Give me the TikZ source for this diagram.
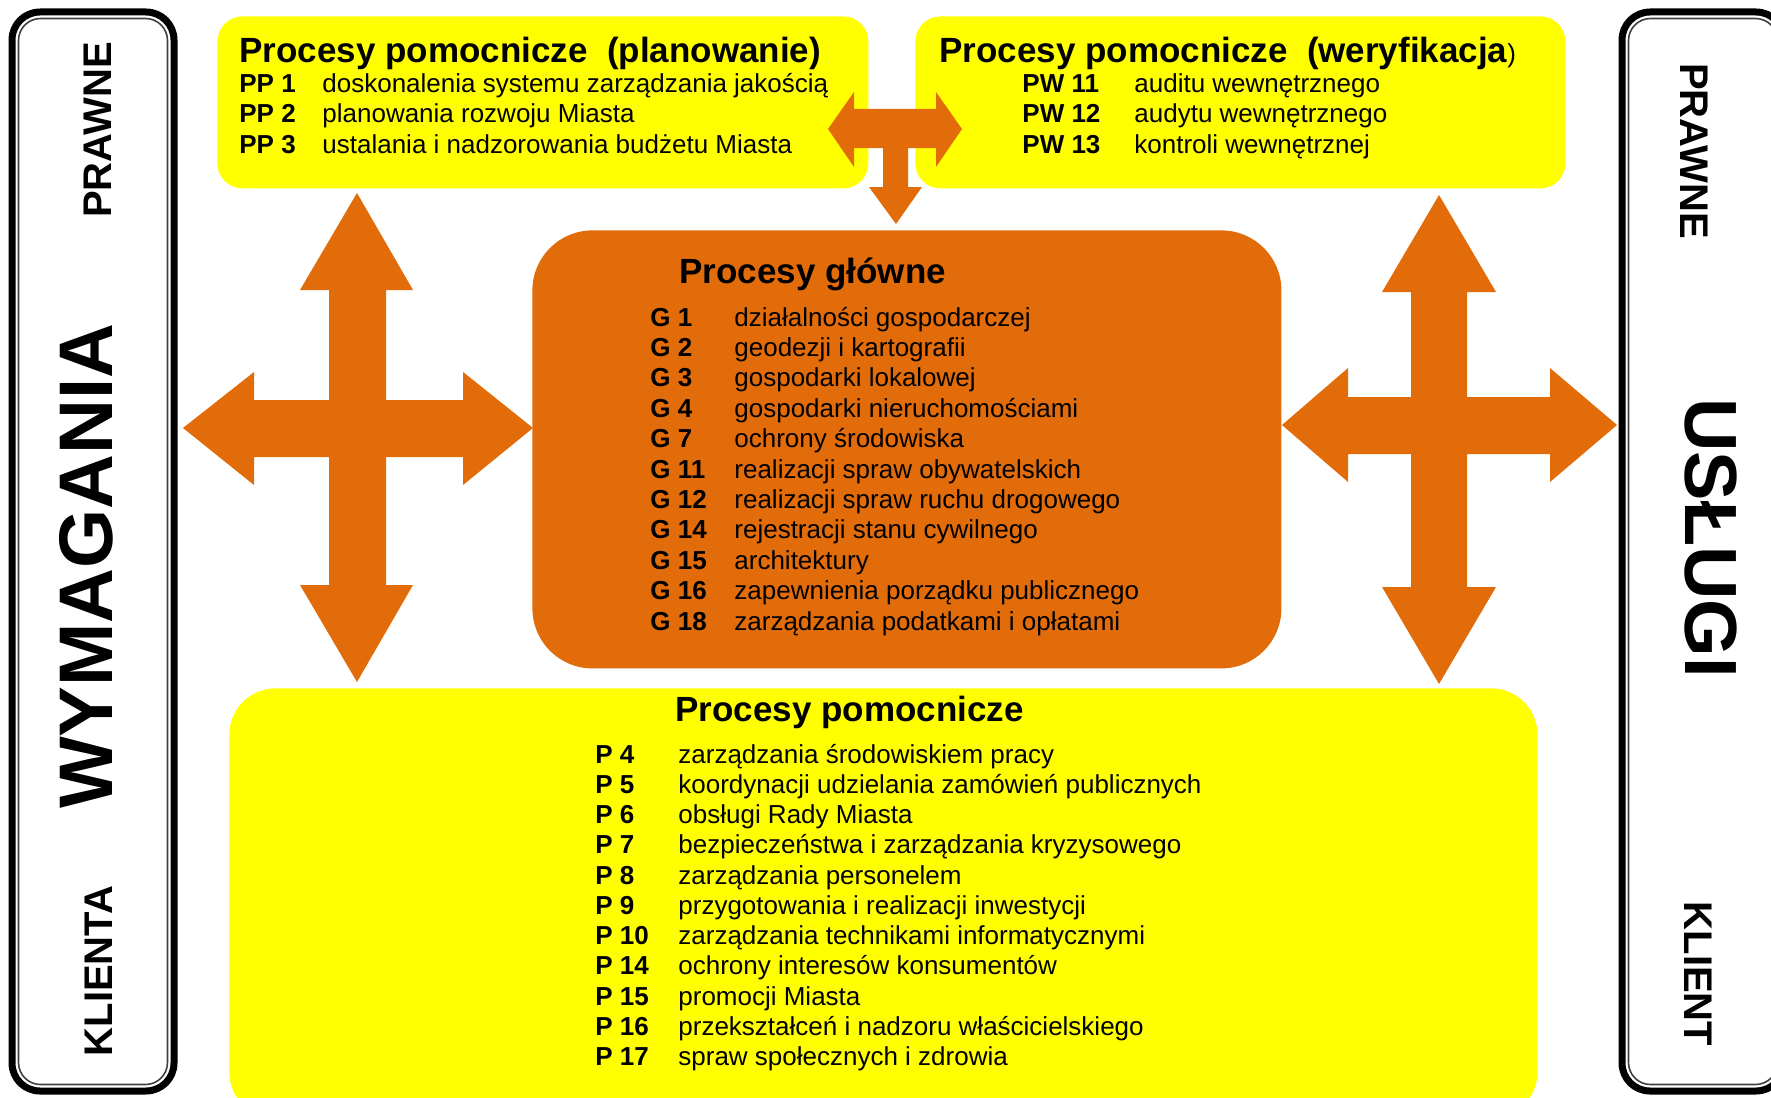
\documentclass[tikz,border=0pt]{standalone}
\usepackage{fontspec}
\setmainfont{Liberation Sans}
\definecolor{orng}{HTML}{E36C0A}
\definecolor{yel}{HTML}{FFFF00}
\begin{document}
\begin{tikzpicture}[x=0.5pt,y=-0.5pt,
  ybox/.style={fill=yel,draw=none,anchor=north west,inner sep=0pt},
  obox/.style={fill=orng,draw=none,anchor=north west,inner sep=0pt},
  ttl/.style={anchor=base west,inner sep=0pt,font=\fontsize{17.5}{20}\selectfont\bfseries},
  lbl/.style={anchor=base west,inner sep=0pt,font=\fontsize{13}{15}\selectfont\bfseries},
  itm/.style={anchor=base west,inner sep=0pt,font=\fontsize{13}{15}\selectfont},
  side/.style={inner sep=0pt,font=\fontsize{20}{22}\selectfont\bfseries},
  big/.style={inner sep=0pt,font=\fontsize{38}{40}\selectfont\bfseries},
  frameout/.style={draw=black,line width=3.5pt,rounded corners=14pt},
  framein/.style={draw=black!75,line width=0.8pt,rounded corners=11pt},
  arr/.style={fill=orng,draw=none}]
\useasboundingbox (0,0) rectangle (1771,1097);
\clip (0,0) rectangle (1771,1097);

% side frames
\draw[frameout] (12,12) rectangle (174,1091);
\draw[framein] (18.5,18.5) rectangle (167.5,1084.5);
\draw[frameout] (1622,12) rectangle (1784,1091);
\draw[framein] (1628.5,18.5) rectangle (1777.5,1084.5);

% boxes
\node[ybox,rounded corners=12.5pt,minimum width=325.5pt,minimum height=86pt] (pp) at (217,16) {};
\node[ybox,rounded corners=12.5pt,minimum width=325pt,minimum height=86pt] (pw) at (915,16) {};
\node[obox,rounded corners=30pt,minimum width=374.5pt,minimum height=219pt] (g) at (532,230) {};
\node[ybox,rounded corners=23pt,minimum width=654pt,minimum height=215pt] (p) at (229,688) {};

% left cross arrow
\path[arr] (357,193) -- (413,290) -- (386,290) -- (386,400) -- (463,400) -- (463,372) -- (533,428)
  -- (463,485) -- (463,457) -- (386,457) -- (386,585) -- (413,585) -- (357,682) -- (300,585)
  -- (329,585) -- (329,457) -- (254,457) -- (254,485) -- (183,428) -- (254,372) -- (254,400)
  -- (329,400) -- (329,290) -- (300,290) -- cycle;
% right cross arrow
\path[arr] (1439,195) -- (1496,292) -- (1467,292) -- (1467,397) -- (1550,397) -- (1550,368) -- (1617,425)
  -- (1550,482) -- (1550,454) -- (1467,454) -- (1467,587) -- (1496,587) -- (1439,684) -- (1382,587)
  -- (1411,587) -- (1411,454) -- (1348,454) -- (1348,482) -- (1282,425) -- (1348,368) -- (1348,397)
  -- (1411,397) -- (1411,292) -- (1382,292) -- cycle;
% T arrow between top boxes
\path[arr] (828,129) -- (854,92) -- (854,109) -- (936,109) -- (936,92) -- (962,129) -- (936,167)
  -- (936,148) -- (908,148) -- (908,187) -- (922,187) -- (896,224) -- (869,187) -- (883,187)
  -- (883,148) -- (854,148) -- (854,167) -- cycle;

% side texts
\node[big,rotate=90] (wym) at (86,566) {WYMAGANIA};
\node[side,rotate=90] (lpr) at (98,130) {PRAWNE};
\node[side,rotate=90] (lkl) at (99,971) {KLIENTA};
\node[big,rotate=-90,font=\fontsize{37}{40}\selectfont\bfseries] (usl) at (1711,538) {USŁUGI};
\node[side,rotate=-90] (rpr) at (1694,151) {PRAWNE};
\node[side,rotate=-90] (rkl) at (1698,974) {KLIENT};

% PP box
\node[ttl] (ppt) at (239,63) {Procesy pomocnicze\ \ (planowanie)};
\node[lbl] (pp1l) at (239,93) {PP 1};
\node[itm] (pp1) at (322,93) {doskonalenia systemu zarządzania jakością};
\node[lbl] (pp2l) at (239,123) {PP 2};
\node[itm] (pp2) at (322,123) {planowania rozwoju Miasta};
\node[lbl] (pp3l) at (239,154) {PP 3};
\node[itm] (pp3) at (322,154) {ustalania i nadzorowania budżetu Miasta};

% PW box
\node[ttl] (pwt) at (939,63) {Procesy pomocnicze\ \ (weryfikacja{\fontsize{13}{15}\selectfont\mdseries )}};
\node[lbl] (pw1l) at (1022,93) {PW 11};
\node[itm] (pw1) at (1134,93) {auditu wewnętrznego};
\node[lbl] (pw2l) at (1022,123) {PW 12};
\node[itm] (pw2) at (1134,123) {audytu wewnętrznego};
\node[lbl] (pw3l) at (1022,154) {PW 13};
\node[itm] (pw3) at (1134,154) {kontroli wewnętrznej};

% G box
\node[ttl] (gt) at (679,283) {Procesy główne};
\foreach \lab/\txt [count=\i from 0] in {
  G 1/działalności gospodarczej,
  G 2/geodezji i kartografii,
  G 3/gospodarki lokalowej,
  G 4/gospodarki nieruchomościami,
  G 7/ochrony środowiska,
  G 11/realizacji spraw obywatelskich,
  G 12/realizacji spraw ruchu drogowego,
  G 14/rejestracji stanu cywilnego,
  G 15/architektury,
  G 16/zapewnienia porządku publicznego,
  G 18/zarządzania podatkami i opłatami}{
  \node[lbl] (gl\i) at (650,326+30.4*\i) {\lab};
  \node[itm] (gi\i) at (734,326+30.4*\i) {\txt};
}

% P box
\node[ttl] (pt) at (675,721) {Procesy pomocnicze};
\foreach \lab/\txt [count=\i from 0] in {
  P 4/zarządzania środowiskiem pracy,
  P 5/koordynacji udzielania zamówień publicznych,
  P 6/obsługi Rady Miasta,
  P 7/bezpieczeństwa i zarządzania kryzysowego,
  P 8/zarządzania personelem,
  P 9/przygotowania i realizacji inwestycji,
  P 10/zarządzania technikami informatycznymi,
  P 14/ochrony interesów konsumentów,
  P 15/promocji Miasta,
  P 16/przekształceń i nadzoru właścicielskiego,
  P 17/spraw społecznych i zdrowia}{
  \node[lbl] (pl\i) at (595,763+30.25*\i) {\lab};
  \node[itm] (pi\i) at (678,763+30.25*\i) {\txt};
}
\end{tikzpicture}
\end{document}
